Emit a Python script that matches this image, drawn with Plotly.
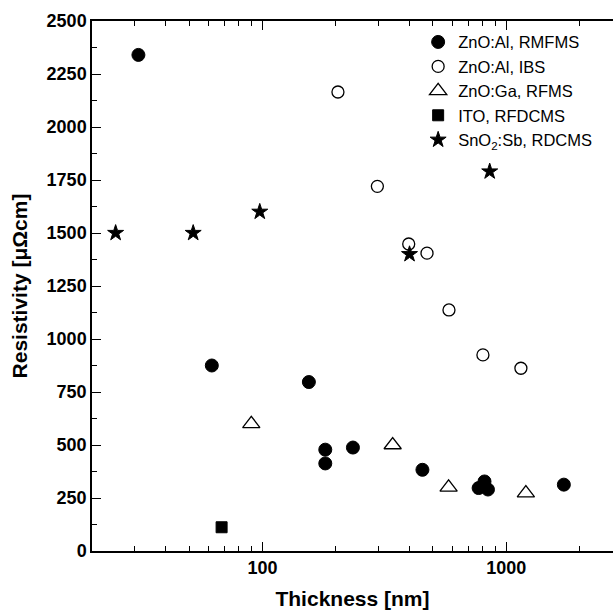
import plotly.graph_objects as go

# ---- data ----
rmfms_x = [31, 62, 155, 181, 181, 235, 453, 770, 814, 841, 1722]
rmfms_y = [2340, 875, 797, 478, 413, 488, 383, 297, 328, 290, 313]

ibs_x = [204, 296, 398, 473, 582, 802, 1148]
ibs_y = [2165, 1720, 1448, 1405, 1137, 925, 862]

ga_x = [90, 342, 580, 1203]
ga_y = [600, 500, 300, 273]

ito_x = [68]
ito_y = [112]

sno_x = [25, 52, 97.5, 401, 855]
sno_y = [1500, 1500, 1600, 1400, 1790]

x_tickvals = [100, 1000]
x_ticktext = ["100", "1000"]
x_minor = [30, 40, 50, 60, 70, 80, 90, 200, 300, 400, 500, 600, 700, 800, 900, 2000]

FONT = "Liberation Sans, Arial, sans-serif"

fig = go.Figure()
fig.add_trace(go.Scatter(x=rmfms_x, y=rmfms_y, mode="markers", name="ZnO:Al, RMFMS",
                         marker=dict(symbol="circle", size=13, color="black",
                                     line=dict(color="black", width=1))))
fig.add_trace(go.Scatter(x=ibs_x, y=ibs_y, mode="markers", name="ZnO:Al, IBS",
                         marker=dict(symbol="circle", size=12, color="white",
                                     line=dict(color="black", width=1.3))))
fig.add_trace(go.Scatter(x=ga_x, y=ga_y, mode="markers", name="ZnO:Ga, RFMS",
                         marker=dict(symbol="triangle-up", size=15, color="white",
                                     line=dict(color="black", width=1.3))))
fig.add_trace(go.Scatter(x=ito_x, y=ito_y, mode="markers", name="ITO, RFDCMS",
                         marker=dict(symbol="square", size=11, color="black",
                                     line=dict(color="black", width=1))))
fig.add_trace(go.Scatter(x=sno_x, y=sno_y, mode="markers", name="SnO<sub>2</sub>:Sb, RDCMS",
                         marker=dict(symbol="star", size=12, color="black",
                                     line=dict(color="black", width=1))))

fig.update_layout(
    width=613, height=610,
    margin=dict(l=92, r=0, t=21, b=59),
    paper_bgcolor="white", plot_bgcolor="white",
    font=dict(family=FONT, color="black"),
    showlegend=True,
    legend=dict(x=0.626, y=0.993, xanchor="left", yanchor="top",
                font=dict(family=FONT, size=16.5, color="black"),
                bgcolor="rgba(0,0,0,0)", borderwidth=0, tracegroupgap=0),
)

fig.update_xaxes(
    type="log", range=[1.30103, 3.4376],
    showline=True, linecolor="black", linewidth=1.5, mirror="ticks",
    showgrid=False, zeroline=False,
    tickmode="array", tickvals=x_tickvals, ticktext=x_ticktext,
    ticks="inside", ticklen=9, tickwidth=1.3, tickcolor="black",
    tickfont=dict(family=FONT, size=18, weight="bold"),
    minor=dict(tickmode="array", tickvals=x_minor, ticks="inside", ticklen=5,
               tickwidth=1.1, tickcolor="black", showgrid=False),
    title=dict(text="Thickness [nm]", font=dict(family=FONT, size=21, weight="bold"),
               standoff=14),
)

fig.update_yaxes(
    range=[0, 2500],
    showline=True, linecolor="black", linewidth=1.5, mirror=False,
    showgrid=False, zeroline=False,
    tickmode="linear", tick0=0, dtick=250,
    ticks="inside", ticklen=9, tickwidth=1.3, tickcolor="black",
    tickfont=dict(family=FONT, size=18, weight="bold"),
    minor=dict(dtick=125, ticks="inside", ticklen=5, tickwidth=1.1,
               tickcolor="black", showgrid=False),
    title=dict(text="Resistivity [μΩcm]", font=dict(family=FONT, size=21, weight="bold"),
               standoff=13),
)

fig.write_html("out.html", config={"displayModeBar": False},
               post_script="document.body.style.margin='0';")
